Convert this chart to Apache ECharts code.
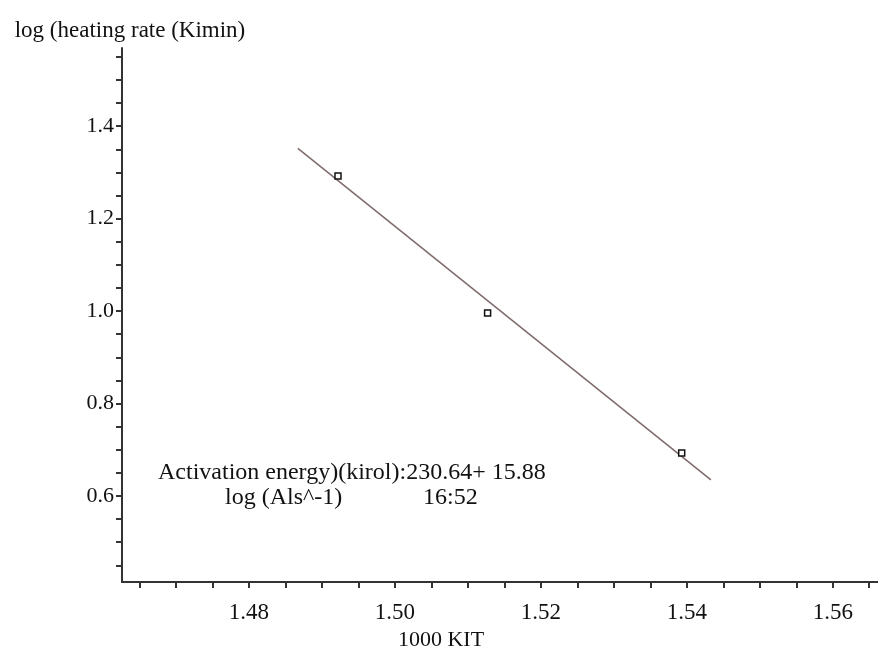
<!DOCTYPE html>
<html>
<head>
<meta charset="utf-8">
<script src="https://cdn.jsdelivr.net/npm/echarts@6/dist/echarts.min.js"></script>
<style>
  html, body { margin: 0; padding: 0; background: #fff; }
  #chart { width: 878px; height: 666px; }
</style>
</head>
<body>
<div id="chart"></div>
<script>
// measured points
var pointX = [1.4922, 1.5127, 1.5393];
var pointY = [1.292, 0.996, 0.693];
// fitted line ends
var fitX = [1.4867, 1.5433];
var fitY = [1.352, 0.635];

// tick labels
var xLabels = [1.48, 1.50, 1.52, 1.54, 1.56];
var yLabels = [0.6, 0.8, 1.0, 1.2, 1.4];
var xTicks = [1.465, 1.47, 1.475, 1.48, 1.485, 1.49, 1.495, 1.5, 1.505, 1.51, 1.515, 1.52,
  1.525, 1.53, 1.535, 1.54, 1.545, 1.55, 1.555, 1.56, 1.565];
var yTicks = [0.45, 0.5, 0.55, 0.6, 0.65, 0.7, 0.75, 0.8, 0.85, 0.9, 0.95, 1.0, 1.05,
  1.1, 1.15, 1.2, 1.25, 1.3, 1.35, 1.4, 1.45, 1.5, 1.55];

var annoLine1 = "Activation energy)(kirol):230.64+ 15.88";
var annoLine2a = "log (Als^-1)";
var annoLine2b = "16:52";

var font = "'Liberation Serif', 'Times New Roman', serif";

var myChart = echarts.init(document.getElementById("chart"));
myChart.setOption({
  animation: false,
  backgroundColor: "#fff",
  grid: { left: 122, right: 0, top: 48, bottom: 84 },
  xAxis: {
    type: "value",
    min: 1.4626,
    max: 1.5662,
    name: "1000 KIT",
    nameLocation: "middle",
    nameGap: 44,
    nameTextStyle: { fontFamily: font, fontSize: 22, color: "#111", padding: [0, 118, 0, 0] },
    splitLine: { show: false },
    axisLine: { lineStyle: { color: "#333", width: 2 } },
    axisTick: { customValues: xTicks, length: 6, lineStyle: { color: "#333", width: 2 } },
    axisLabel: {
      customValues: xLabels,
      margin: 19,
      fontFamily: font,
      fontSize: 23,
      color: "#111",
      formatter: function (v) { return v.toFixed(2); }
    }
  },
  yAxis: {
    type: "value",
    min: 0.414,
    max: 1.569,
    name: "log (heating rate (Kimin)",
    nameLocation: "end",
    nameGap: 6,
    nameTextStyle: { fontFamily: font, fontSize: 23, color: "#111", align: "center", padding: [0, 0, 0, 16] },
    splitLine: { show: false },
    axisLine: { lineStyle: { color: "#333", width: 2 } },
    axisTick: { customValues: yTicks, length: 6, lineStyle: { color: "#333", width: 2 } },
    axisLabel: {
      customValues: yLabels,
      margin: 8,
      fontFamily: font,
      fontSize: 22,
      color: "#111",
      formatter: function (v) { return v.toFixed(1); }
    }
  },
  series: [
    {
      name: "fit",
      type: "line",
      data: fitX.map(function (x, i) { return [x, fitY[i]]; }),
      symbol: "none",
      lineStyle: { color: "#7f6a6a", width: 1.5 },
      z: 2
    },
    {
      name: "data",
      type: "scatter",
      data: pointX.map(function (x, i) { return [x, pointY[i]]; }),
      symbol: "rect",
      symbolSize: 6,
      itemStyle: { color: "#fff", borderColor: "#111", borderWidth: 1.5, opacity: 1 },
      z: 3
    }
  ],
  graphic: [
    {
      type: "text", left: 158, top: 461,
      style: { text: annoLine1, font: "24px " + font, fill: "#111" }
    },
    {
      type: "text", left: 225, top: 486,
      style: { text: annoLine2a, font: "24px " + font, fill: "#111" }
    },
    {
      type: "text", left: 423, top: 486,
      style: { text: annoLine2b, font: "24px " + font, fill: "#111" }
    }
  ]
});
</script>
</body>
</html>
